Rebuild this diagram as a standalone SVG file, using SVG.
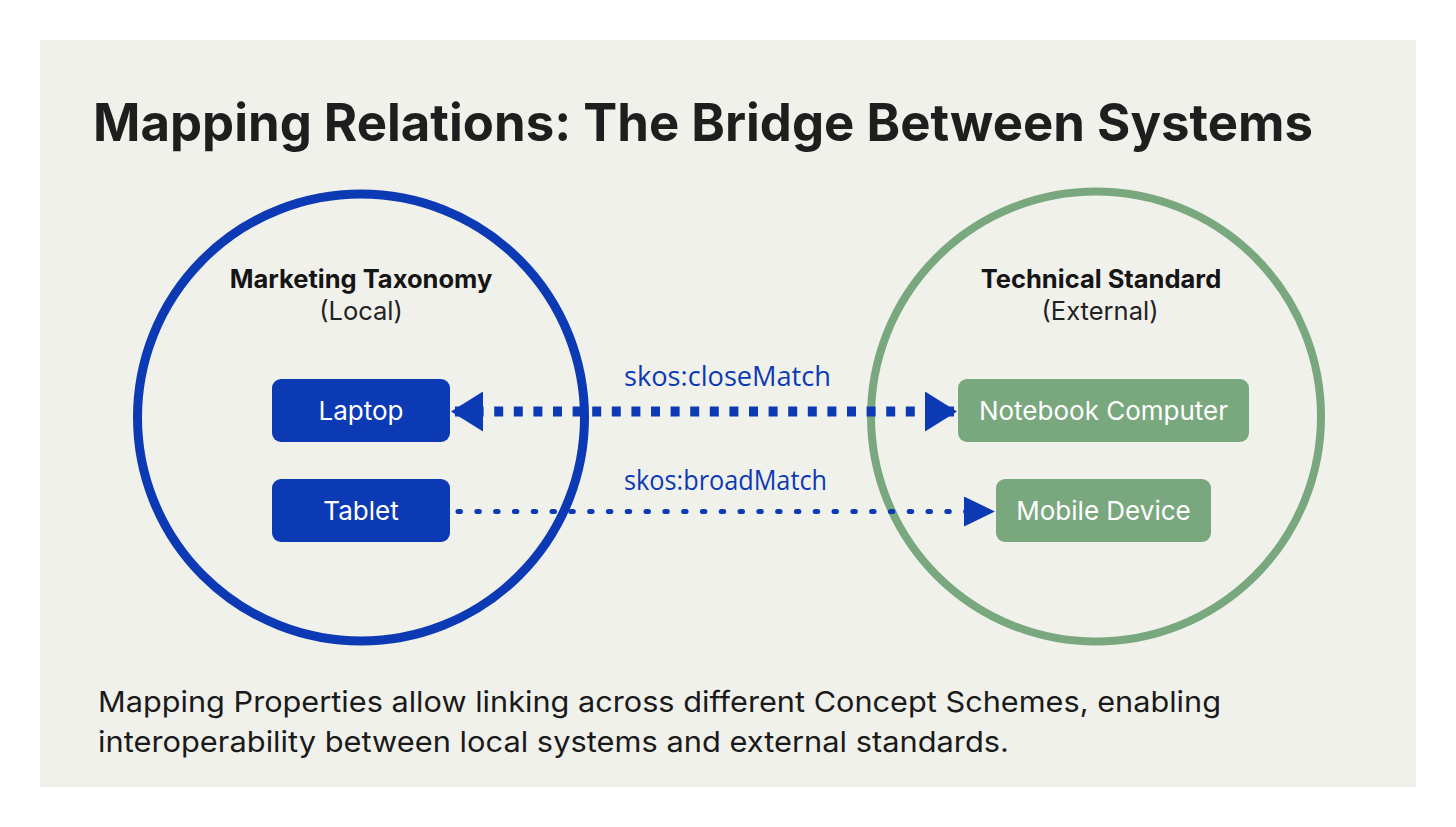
<svg xmlns="http://www.w3.org/2000/svg" width="1456" height="827" viewBox="0 0 1456 827">
  <style>
    .title { font-family: Inter, "Liberation Sans", sans-serif; font-weight: 700; font-size: 52px; fill: #1e1e1e; }
    .head { font-family: Inter, "Liberation Sans", sans-serif; font-weight: 700; font-size: 25.5px; fill: #151515; text-anchor: middle; }
    .sub { font-family: Inter, "Liberation Sans", sans-serif; font-weight: 400; font-size: 25.5px; fill: #222; text-anchor: middle; }
    .lbl { font-family: Inter, "Liberation Sans", sans-serif; font-weight: 400; font-size: 26px; fill: #ffffff; text-anchor: middle; }
    .edge { font-family: "Open Sans", "Noto Sans", sans-serif; font-weight: 400; font-size: 27px; fill: #0b3ab4; }
    .body { font-family: Inter, "Liberation Sans", sans-serif; font-weight: 400; font-size: 29px; fill: #1a1a1a; }
    .blueBox { fill: #0b3ab4; }
    .greenBox { fill: #7aa87e; }
  </style>
  <defs>
    <marker id="arrowBig" viewBox="0 0 32 40" refX="32" refY="20" markerWidth="32" markerHeight="40" markerUnits="userSpaceOnUse" orient="auto-start-reverse">
      <path d="M0,0 L32,20 L0,40 Z" fill="#0b3ab4"/>
    </marker>
    <marker id="arrowSmall" viewBox="0 0 31 30" refX="31" refY="15" markerWidth="31" markerHeight="30" markerUnits="userSpaceOnUse" orient="auto">
      <path d="M0,0 L31,15 L0,30 Z" fill="#0b3ab4"/>
    </marker>
  </defs>

  <rect x="0" y="0" width="1456" height="827" fill="#ffffff"/>
  <rect x="40" y="40" width="1376" height="747" fill="#f1f1ec"/>

  <text class="title" x="93" y="141" textLength="1220" lengthAdjust="spacingAndGlyphs">Mapping Relations: The Bridge Between Systems</text>

  <g id="scheme-local">
    <circle cx="361" cy="417.5" r="223.5" fill="none" stroke="#0b3ab4" stroke-width="9"/>
    <text class="head" x="361" y="288">Marketing Taxonomy</text>
    <text class="sub" x="361" y="320">(Local)</text>
  </g>

  <g id="scheme-external">
    <circle cx="1096" cy="416.5" r="225" fill="none" stroke="#7aa87e" stroke-width="8"/>
    <text class="head" x="1101" y="288">Technical Standard</text>
    <text class="sub" x="1100" y="320">(External)</text>
  </g>

  <g id="connectors">
    <line x1="451" y1="411.5" x2="957" y2="411.5" stroke="#0b3ab4" stroke-width="10" stroke-dasharray="9 10.6" stroke-dashoffset="-4" marker-start="url(#arrowBig)" marker-end="url(#arrowBig)"/>
    <line x1="458" y1="511.5" x2="995" y2="511.5" stroke="#0b3ab4" stroke-width="5" stroke-dasharray="2.5 16.3" stroke-linecap="round" marker-end="url(#arrowSmall)"/>
    <text class="edge" x="624" y="386" textLength="207" lengthAdjust="spacingAndGlyphs">skos:closeMatch</text>
    <text class="edge" x="624" y="490" textLength="203" lengthAdjust="spacingAndGlyphs">skos:broadMatch</text>
  </g>

  <g id="node-laptop">
    <rect class="blueBox" x="272" y="379" width="178" height="63" rx="9"/>
    <text class="lbl" x="361" y="420">Laptop</text>
  </g>
  <g id="node-tablet">
    <rect class="blueBox" x="272" y="479" width="178" height="63" rx="9"/>
    <text class="lbl" x="361" y="520">Tablet</text>
  </g>
  <g id="node-notebook">
    <rect class="greenBox" x="958" y="379" width="291" height="63" rx="9"/>
    <text class="lbl" x="1103.5" y="420">Notebook Computer</text>
  </g>
  <g id="node-mobile">
    <rect class="greenBox" x="996" y="479" width="215" height="63" rx="9"/>
    <text class="lbl" x="1103.5" y="520">Mobile Device</text>
  </g>

  <text class="body" x="98" y="712" textLength="1123" lengthAdjust="spacingAndGlyphs">Mapping Properties allow linking across different Concept Schemes, enabling</text>
  <text class="body" x="98" y="752" textLength="911" lengthAdjust="spacingAndGlyphs">interoperability between local systems and external standards.</text>
</svg>
